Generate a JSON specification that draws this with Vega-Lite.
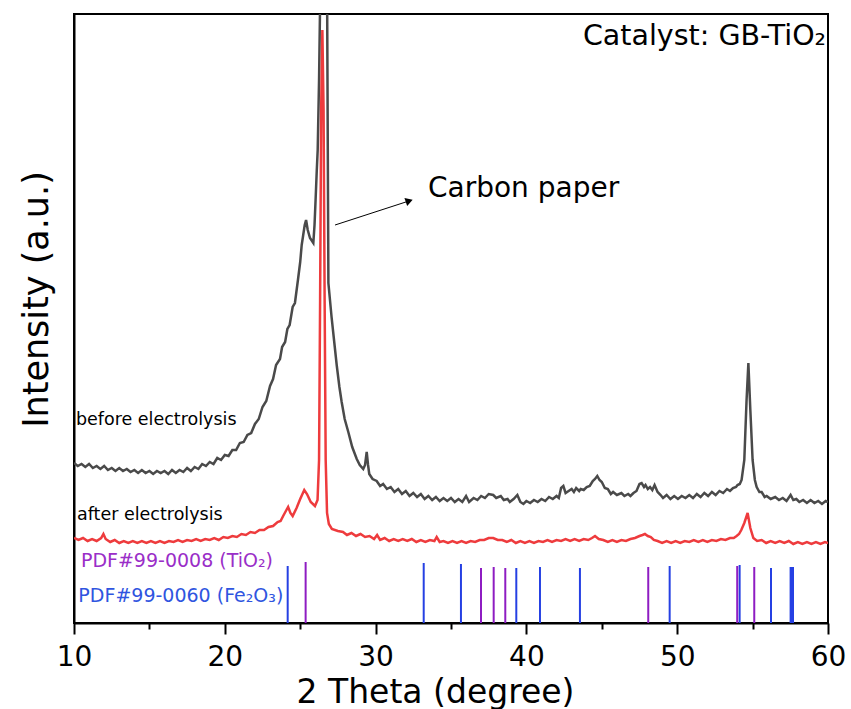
{
  "$schema": "https://vega.github.io/schema/vega-lite/v6.json",
  "width": 754,
  "height": 609,
  "autosize": {"type": "none"},
  "padding": {"left": 74, "top": 14, "right": 23, "bottom": 86},
  "background": "white",
  "config": {
    "view": {"stroke": "black", "strokeWidth": 2},
    "font": "DejaVu Sans",
    "text": {"font": "DejaVu Sans"}
  },
  "datasets": {
    "before": [
      {"x":10.0,"y":160},{"x":10.25,"y":157},{"x":10.5,"y":159},{"x":10.75,"y":156},{"x":11.0,"y":159},{"x":11.25,"y":155},{"x":11.5,"y":157},{"x":11.75,"y":154},{"x":12.0,"y":157},{"x":12.25,"y":153},{"x":12.5,"y":155},{"x":12.75,"y":152},{"x":13.0,"y":155},{"x":13.25,"y":152},{"x":13.5,"y":154},{"x":13.75,"y":151},{"x":14.0,"y":153},{"x":14.25,"y":150},{"x":14.5,"y":153},{"x":14.75,"y":150},{"x":15.0,"y":152},{"x":15.25,"y":149},{"x":15.5,"y":152},{"x":15.75,"y":150},{"x":16.0,"y":152},{"x":16.25,"y":149},{"x":16.5,"y":153},{"x":16.75,"y":150},{"x":17.0,"y":153},{"x":17.25,"y":151},{"x":17.5,"y":155},{"x":17.75,"y":152},{"x":18.0,"y":156},{"x":18.25,"y":154},{"x":18.5,"y":159},{"x":18.75,"y":157},{"x":19.0,"y":161},{"x":19.25,"y":159},{"x":19.5,"y":165},{"x":19.75,"y":163},{"x":20.0,"y":168},{"x":20.25,"y":167},{"x":20.5,"y":173},{"x":20.75,"y":173},{"x":21.0,"y":180},{"x":21.25,"y":181},{"x":21.5,"y":188},{"x":21.75,"y":190},{"x":22.0,"y":199},{"x":22.25,"y":204},{"x":22.5,"y":216},{"x":22.75,"y":222},{"x":23.0,"y":237},{"x":23.2,"y":244},{"x":23.4,"y":258},{"x":23.66,"y":264},{"x":23.8,"y":276},{"x":24.0,"y":281},{"x":24.15,"y":294},{"x":24.3,"y":298},{"x":24.5,"y":316},{"x":24.65,"y":320},{"x":24.85,"y":343},{"x":25.0,"y":361},{"x":25.1,"y":378},{"x":25.2,"y":388},{"x":25.3,"y":398},{"x":25.39,"y":403},{"x":25.5,"y":393},{"x":25.65,"y":385},{"x":25.87,"y":380},{"x":25.95,"y":398},{"x":26.02,"y":423},{"x":26.1,"y":453},{"x":26.16,"y":473},{"x":26.25,"y":543},{"x":26.31,"y":609},{"x":26.55,"y":1500},{"x":26.79,"y":609},{"x":26.83,"y":473},{"x":26.87,"y":340},{"x":27.08,"y":306},{"x":27.25,"y":282},{"x":27.42,"y":258},{"x":27.6,"y":236},{"x":27.75,"y":221},{"x":27.95,"y":204},{"x":28.19,"y":191},{"x":28.45,"y":176},{"x":28.75,"y":164},{"x":28.95,"y":158},{"x":29.18,"y":154},{"x":29.3,"y":158},{"x":29.41,"y":171},{"x":29.5,"y":158},{"x":29.58,"y":149},{"x":29.8,"y":144},{"x":30.07,"y":142},{"x":30.3,"y":137},{"x":30.5,"y":139},{"x":30.75,"y":134},{"x":31.0,"y":136},{"x":31.25,"y":131},{"x":31.5,"y":134},{"x":31.75,"y":129},{"x":32.0,"y":132},{"x":32.25,"y":127},{"x":32.5,"y":130},{"x":32.75,"y":126},{"x":33.0,"y":129},{"x":33.25,"y":124},{"x":33.5,"y":127},{"x":33.75,"y":123},{"x":34.0,"y":126},{"x":34.25,"y":122},{"x":34.5,"y":125},{"x":34.75,"y":122},{"x":35.0,"y":125},{"x":35.25,"y":121},{"x":35.5,"y":124},{"x":35.75,"y":121},{"x":36.0,"y":127},{"x":36.2,"y":121},{"x":36.5,"y":125},{"x":36.75,"y":123},{"x":37.0,"y":127},{"x":37.25,"y":125},{"x":37.5,"y":129},{"x":37.8,"y":128},{"x":38.0,"y":125},{"x":38.3,"y":127},{"x":38.5,"y":123},{"x":38.75,"y":124},{"x":38.9,"y":121},{"x":39.15,"y":124},{"x":39.4,"y":128},{"x":39.6,"y":121},{"x":39.8,"y":119},{"x":40.0,"y":122},{"x":40.25,"y":120},{"x":40.5,"y":123},{"x":40.75,"y":121},{"x":41.0,"y":124},{"x":41.25,"y":122},{"x":41.5,"y":126},{"x":41.75,"y":124},{"x":42.0,"y":127},{"x":42.15,"y":125},{"x":42.3,"y":135},{"x":42.45,"y":137},{"x":42.6,"y":130},{"x":42.8,"y":132},{"x":43.0,"y":134},{"x":43.15,"y":131},{"x":43.3,"y":135},{"x":43.5,"y":132},{"x":43.6,"y":134},{"x":43.8,"y":133},{"x":44.0,"y":136},{"x":44.2,"y":137},{"x":44.4,"y":142},{"x":44.55,"y":144},{"x":44.7,"y":147},{"x":44.85,"y":143},{"x":45.0,"y":141},{"x":45.2,"y":135},{"x":45.4,"y":134},{"x":45.6,"y":129},{"x":45.75,"y":131},{"x":46.0,"y":128},{"x":46.3,"y":130},{"x":46.5,"y":127},{"x":46.75,"y":129},{"x":46.9,"y":127},{"x":47.1,"y":130},{"x":47.3,"y":132},{"x":47.5,"y":139},{"x":47.64,"y":140},{"x":47.8,"y":136},{"x":47.9,"y":138},{"x":48.05,"y":134},{"x":48.2,"y":136},{"x":48.35,"y":133},{"x":48.5,"y":138},{"x":48.7,"y":131},{"x":48.9,"y":128},{"x":49.06,"y":125},{"x":49.3,"y":128},{"x":49.55,"y":124},{"x":49.8,"y":127},{"x":50.05,"y":124},{"x":50.3,"y":127},{"x":50.55,"y":125},{"x":50.8,"y":128},{"x":51.05,"y":125},{"x":51.3,"y":129},{"x":51.55,"y":126},{"x":51.8,"y":130},{"x":52.05,"y":127},{"x":52.3,"y":131},{"x":52.55,"y":128},{"x":52.8,"y":132},{"x":53.05,"y":130},{"x":53.3,"y":134},{"x":53.5,"y":132},{"x":53.7,"y":135},{"x":53.9,"y":136},{"x":54.0,"y":138},{"x":54.15,"y":139},{"x":54.27,"y":143},{"x":54.45,"y":163},{"x":54.6,"y":223},{"x":54.72,"y":260},{"x":54.85,"y":213},{"x":55.0,"y":163},{"x":55.15,"y":143},{"x":55.27,"y":136},{"x":55.45,"y":131},{"x":55.6,"y":131},{"x":55.8,"y":126},{"x":55.93,"y":127},{"x":56.2,"y":124},{"x":56.5,"y":126},{"x":56.75,"y":123},{"x":57.0,"y":125},{"x":57.25,"y":122},{"x":57.52,"y":128},{"x":57.7,"y":123},{"x":57.9,"y":124},{"x":58.1,"y":121},{"x":58.35,"y":123},{"x":58.6,"y":120},{"x":58.85,"y":123},{"x":59.1,"y":120},{"x":59.35,"y":122},{"x":59.6,"y":119},{"x":59.85,"y":122},{"x":60.0,"y":121}
    ],
    "after": [
      {"x":10.0,"y":85},{"x":10.3,"y":83},{"x":10.6,"y":85},{"x":10.9,"y":82},{"x":11.2,"y":84},{"x":11.5,"y":82},{"x":11.8,"y":85},{"x":11.95,"y":89},{"x":12.1,"y":84},{"x":12.4,"y":81},{"x":12.7,"y":83},{"x":13.0,"y":80},{"x":13.3,"y":82},{"x":13.6,"y":80},{"x":13.9,"y":82},{"x":14.2,"y":80},{"x":14.5,"y":82},{"x":14.8,"y":80},{"x":15.1,"y":82},{"x":15.4,"y":80},{"x":15.7,"y":82},{"x":16.0,"y":80},{"x":16.3,"y":82},{"x":16.6,"y":81},{"x":16.9,"y":83},{"x":17.2,"y":81},{"x":17.5,"y":83},{"x":17.8,"y":82},{"x":18.1,"y":84},{"x":18.4,"y":82},{"x":18.7,"y":84},{"x":19.0,"y":83},{"x":19.3,"y":85},{"x":19.6,"y":83},{"x":19.9,"y":86},{"x":20.2,"y":85},{"x":20.5,"y":87},{"x":20.8,"y":86},{"x":21.1,"y":89},{"x":21.4,"y":88},{"x":21.7,"y":91},{"x":22.0,"y":90},{"x":22.3,"y":93},{"x":22.6,"y":93},{"x":22.9,"y":96},{"x":23.2,"y":97},{"x":23.5,"y":101},{"x":23.7,"y":102},{"x":23.87,"y":107},{"x":24.05,"y":112},{"x":24.2,"y":116},{"x":24.35,"y":110},{"x":24.5,"y":107},{"x":24.76,"y":115},{"x":25.0,"y":124},{"x":25.27,"y":133},{"x":25.45,"y":129},{"x":25.7,"y":121},{"x":25.98,"y":117},{"x":26.15,"y":123},{"x":26.25,"y":163},{"x":26.32,"y":323},{"x":26.39,"y":513},{"x":26.47,"y":593},{"x":26.55,"y":513},{"x":26.62,"y":323},{"x":26.69,"y":163},{"x":26.78,"y":110},{"x":26.9,"y":99},{"x":27.1,"y":94},{"x":27.5,"y":92},{"x":27.84,"y":91},{"x":28.1,"y":88},{"x":28.4,"y":90},{"x":28.7,"y":87},{"x":29.0,"y":89},{"x":29.3,"y":86},{"x":29.6,"y":87},{"x":29.9,"y":84},{"x":30.1,"y":88},{"x":30.3,"y":83},{"x":30.6,"y":85},{"x":30.9,"y":82},{"x":31.2,"y":84},{"x":31.5,"y":82},{"x":31.8,"y":84},{"x":32.1,"y":82},{"x":32.4,"y":84},{"x":32.7,"y":81},{"x":33.0,"y":83},{"x":33.3,"y":81},{"x":33.6,"y":83},{"x":33.9,"y":82},{"x":34.05,"y":86},{"x":34.25,"y":81},{"x":34.5,"y":82},{"x":34.8,"y":80},{"x":35.1,"y":82},{"x":35.4,"y":80},{"x":35.7,"y":82},{"x":36.0,"y":80},{"x":36.3,"y":82},{"x":36.6,"y":81},{"x":36.9,"y":83},{"x":37.2,"y":83},{"x":37.5,"y":85},{"x":37.8,"y":85},{"x":38.1,"y":83},{"x":38.4,"y":83},{"x":38.7,"y":81},{"x":39.0,"y":83},{"x":39.3,"y":80},{"x":39.6,"y":82},{"x":39.9,"y":80},{"x":40.2,"y":82},{"x":40.5,"y":80},{"x":40.8,"y":82},{"x":41.1,"y":81},{"x":41.4,"y":83},{"x":41.7,"y":81},{"x":42.0,"y":83},{"x":42.3,"y":82},{"x":42.6,"y":84},{"x":42.9,"y":82},{"x":43.2,"y":84},{"x":43.5,"y":82},{"x":43.8,"y":84},{"x":44.1,"y":83},{"x":44.35,"y":85},{"x":44.55,"y":87},{"x":44.8,"y":84},{"x":45.1,"y":83},{"x":45.4,"y":81},{"x":45.7,"y":83},{"x":46.0,"y":81},{"x":46.3,"y":83},{"x":46.6,"y":82},{"x":46.9,"y":84},{"x":47.2,"y":85},{"x":47.5,"y":87},{"x":47.7,"y":88},{"x":47.86,"y":89},{"x":48.05,"y":87},{"x":48.25,"y":86},{"x":48.45,"y":83},{"x":48.7,"y":82},{"x":49.0,"y":80},{"x":49.3,"y":82},{"x":49.6,"y":80},{"x":49.9,"y":82},{"x":50.2,"y":80},{"x":50.5,"y":82},{"x":50.8,"y":81},{"x":51.1,"y":83},{"x":51.4,"y":81},{"x":51.7,"y":83},{"x":52.0,"y":81},{"x":52.3,"y":83},{"x":52.6,"y":82},{"x":52.9,"y":84},{"x":53.2,"y":83},{"x":53.5,"y":85},{"x":53.75,"y":85},{"x":53.94,"y":87},{"x":54.1,"y":89},{"x":54.25,"y":93},{"x":54.45,"y":100},{"x":54.67,"y":110},{"x":54.85,"y":95},{"x":55.05,"y":85},{"x":55.3,"y":82},{"x":55.6,"y":83},{"x":55.9,"y":80},{"x":56.2,"y":82},{"x":56.5,"y":80},{"x":56.8,"y":82},{"x":57.1,"y":80},{"x":57.4,"y":82},{"x":57.7,"y":79},{"x":58.0,"y":81},{"x":58.3,"y":79},{"x":58.6,"y":81},{"x":58.9,"y":79},{"x":59.2,"y":81},{"x":59.5,"y":79},{"x":59.8,"y":81},{"x":60.0,"y":80}
    ],
    "sticks": [
      {"x":24.17,"h":57,"phase":"Fe2O3"},{"x":33.19,"h":60,"phase":"Fe2O3"},{"x":35.66,"h":59,"phase":"Fe2O3"},{"x":39.33,"h":55,"phase":"Fe2O3"},{"x":40.9,"h":56,"phase":"Fe2O3"},{"x":43.55,"h":55,"phase":"Fe2O3"},{"x":49.5,"h":57,"phase":"Fe2O3"},{"x":54.14,"h":58,"phase":"Fe2O3"},{"x":56.22,"h":55,"phase":"Fe2O3"},{"x":57.52,"h":56,"phase":"Fe2O3"},{"x":57.6,"h":56,"phase":"Fe2O3"},{"x":57.68,"h":56,"phase":"Fe2O3"},
      {"x":25.36,"h":61,"phase":"TiO2"},{"x":36.99,"h":55,"phase":"TiO2"},{"x":37.83,"h":56,"phase":"TiO2"},{"x":38.6,"h":55,"phase":"TiO2"},{"x":48.08,"h":56,"phase":"TiO2"},{"x":53.98,"h":57,"phase":"TiO2"},{"x":55.11,"h":56,"phase":"TiO2"}
    ],
    "curveLabels": [
      {"x":10.13,"y":198,"label":"before electrolysis"},
      {"x":10.2,"y":103,"label":"after electrolysis"}
    ],
    "tio2Label": [{"x":10.46,"y":56,"label":"PDF#99-0008 (TiO₂)"}],
    "fe2o3Label": [{"x":10.29,"y":21,"label":"PDF#99-0060 (Fe₂O₃)"}],
    "carbonLabel": [{"x":33.47,"y":426,"label":"Carbon paper"}],
    "catalystLabel": [{"x":59.87,"y":578,"label":"Catalyst: GB-TiO₂"}],
    "arrow": [{"x":27.31,"y":398,"x2":32.23,"y2":422.1}],
    "arrowHead": [{"x":32.23,"y":422.1}]
  },
  "layer": [
    {
      "data": {"name": "before"},
      "mark": {"type": "line", "color": "#4a4a4a", "strokeWidth": 2.5, "clip": true},
      "encoding": {
        "x": {"field": "x", "type": "quantitative",
          "scale": {"domain": [10, 60], "nice": false, "zero": false},
          "axis": {"orient": "bottom", "values": [10, 20, 30, 40, 50, 60], "title": "2 Theta (degree)",
            "titleFontSize": 33, "titleFont": "DejaVu Sans", "titleFontWeight": "normal", "titleColor": "black",
            "titleBaseline": "alphabetic", "titleY": 79, "titleX": 361, "titleAlign": "center",
            "labelFont": "DejaVu Sans", "labelFontSize": 28, "labelColor": "black", "labelPadding": 9,
            "labelFlush": false, "labelOverlap": false,
            "tickSize": 11, "tickWidth": 2, "tickColor": "black",
            "domainColor": "black", "domainWidth": 2, "grid": false}},
        "y": {"field": "y", "type": "quantitative",
          "scale": {"domain": [0, 609], "nice": false, "zero": false},
          "axis": {"title": "Intensity (a.u.)", "titleFontSize": 35, "titleFont": "DejaVu Sans", "titleFontWeight": "normal",
            "titleColor": "black", "titleX": -27, "titleY": 285, "titleBaseline": "alphabetic", "titleAngle": 270, "titleAlign": "center",
            "labels": false, "ticks": false, "grid": false, "domainColor": "black", "domainWidth": 2}}
      }
    },
    {
      "data": {"name": "after"},
      "mark": {"type": "line", "color": "#ee3b3d", "strokeWidth": 2.5, "clip": true},
      "encoding": {
        "x": {"field": "x", "type": "quantitative",
          "scale": {"domain": [10, 60], "nice": false, "zero": false},
          "axis": {"orient": "bottom", "values": [15, 25, 35, 45, 55], "title": null, "labels": false,
            "tickSize": 6, "tickWidth": 2, "tickColor": "black", "domain": false, "grid": false}},
        "y": {"field": "y", "type": "quantitative",
          "scale": {"domain": [0, 609], "nice": false, "zero": false}, "axis": null}
      }
    },
    {
      "data": {"name": "sticks"},
      "mark": {"type": "rule", "strokeWidth": 2},
      "encoding": {
        "x": {"field": "x", "type": "quantitative", "scale": {"domain": [10, 60], "nice": false, "zero": false}, "axis": null},
        "y": {"field": "h", "type": "quantitative", "scale": {"domain": [0, 609], "nice": false, "zero": false}, "axis": null},
        "y2": {"datum": 0},
        "color": {"field": "phase", "type": "nominal", "scale": {"domain": ["TiO2", "Fe2O3"], "range": ["#8e1cc2", "#2540e3"]}, "legend": null}
      }
    },
    {
      "data": {"name": "curveLabels"},
      "mark": {"type": "text", "font": "DejaVu Sans", "fontSize": 17.5, "color": "black", "align": "left", "baseline": "alphabetic"},
      "encoding": {
        "x": {"field": "x", "type": "quantitative", "scale": {"domain": [10, 60], "nice": false, "zero": false}, "axis": null},
        "y": {"field": "y", "type": "quantitative", "scale": {"domain": [0, 609], "nice": false, "zero": false}, "axis": null},
        "text": {"field": "label", "type": "nominal"}
      }
    },
    {
      "data": {"name": "tio2Label"},
      "mark": {"type": "text", "font": "DejaVu Sans", "fontSize": 19, "color": "#9a2ec8", "align": "left", "baseline": "alphabetic"},
      "encoding": {
        "x": {"field": "x", "type": "quantitative", "scale": {"domain": [10, 60], "nice": false, "zero": false}, "axis": null},
        "y": {"field": "y", "type": "quantitative", "scale": {"domain": [0, 609], "nice": false, "zero": false}, "axis": null},
        "text": {"field": "label", "type": "nominal"}
      }
    },
    {
      "data": {"name": "fe2o3Label"},
      "mark": {"type": "text", "font": "DejaVu Sans", "fontSize": 19, "color": "#2f55e0", "align": "left", "baseline": "alphabetic"},
      "encoding": {
        "x": {"field": "x", "type": "quantitative", "scale": {"domain": [10, 60], "nice": false, "zero": false}, "axis": null},
        "y": {"field": "y", "type": "quantitative", "scale": {"domain": [0, 609], "nice": false, "zero": false}, "axis": null},
        "text": {"field": "label", "type": "nominal"}
      }
    },
    {
      "data": {"name": "carbonLabel"},
      "mark": {"type": "text", "font": "DejaVu Sans", "fontSize": 28, "color": "black", "align": "left", "baseline": "alphabetic"},
      "encoding": {
        "x": {"field": "x", "type": "quantitative", "scale": {"domain": [10, 60], "nice": false, "zero": false}, "axis": null},
        "y": {"field": "y", "type": "quantitative", "scale": {"domain": [0, 609], "nice": false, "zero": false}, "axis": null},
        "text": {"field": "label", "type": "nominal"}
      }
    },
    {
      "data": {"name": "catalystLabel"},
      "mark": {"type": "text", "font": "DejaVu Sans", "fontSize": 28.5, "color": "black", "align": "right", "baseline": "alphabetic"},
      "encoding": {
        "x": {"field": "x", "type": "quantitative", "scale": {"domain": [10, 60], "nice": false, "zero": false}, "axis": null},
        "y": {"field": "y", "type": "quantitative", "scale": {"domain": [0, 609], "nice": false, "zero": false}, "axis": null},
        "text": {"field": "label", "type": "nominal"}
      }
    },
    {
      "data": {"name": "arrow"},
      "mark": {"type": "rule", "strokeWidth": 1, "color": "black"},
      "encoding": {
        "x": {"field": "x", "type": "quantitative", "scale": {"domain": [10, 60], "nice": false, "zero": false}, "axis": null},
        "y": {"field": "y", "type": "quantitative", "scale": {"domain": [0, 609], "nice": false, "zero": false}, "axis": null},
        "x2": {"field": "x2"},
        "y2": {"field": "y2"}
      }
    },
    {
      "data": {"name": "arrowHead"},
      "mark": {"type": "point", "shape": "triangle-right", "filled": true, "color": "black", "opacity": 1, "size": 70, "angle": 341},
      "encoding": {
        "x": {"field": "x", "type": "quantitative", "scale": {"domain": [10, 60], "nice": false, "zero": false}, "axis": null},
        "y": {"field": "y", "type": "quantitative", "scale": {"domain": [0, 609], "nice": false, "zero": false}, "axis": null}
      }
    }
  ],
  "resolve": {"axis": {"x": "independent", "y": "independent"}}
}
